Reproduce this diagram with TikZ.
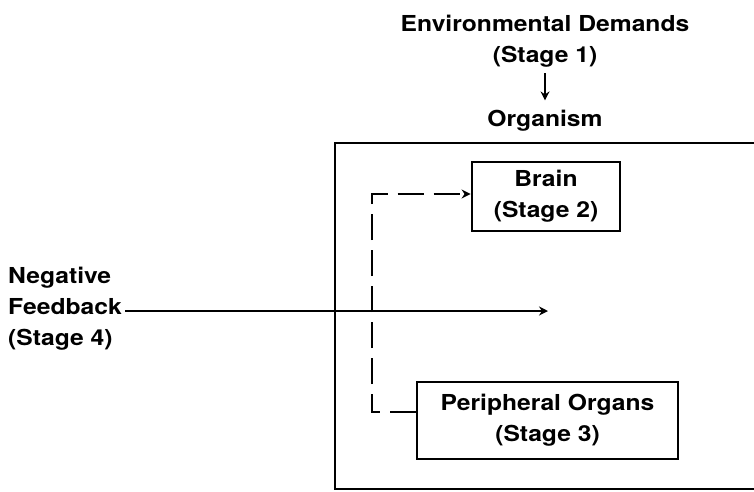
\documentclass[tikz,border=0pt]{standalone}
\usepackage{fontspec}
\setmainfont{TeX Gyre Heros}[FakeStretch=1.12]
\usetikzlibrary{arrows.meta,positioning}

\begin{document}
\begin{tikzpicture}[x=1pt,y=-1pt,
  lbl/.style={font=\bfseries\fontsize{22}{31}\selectfont,inner sep=0pt},
  stagebox/.style={lbl,draw,line width=2.8pt,align=center},
  flow/.style={line width=2.2pt,-{Stealth[length=9pt,width=9pt]}},
  fbdash/.style={line width=2.2pt,dash pattern=on 26pt off 10pt,-{Stealth[length=9pt,width=9pt]}}]
  \clip (0,0) rectangle (754,491);
  % organism frame, runs off the right edge
  \draw[line width=2.8pt] (335,143) rectangle (775,489);
  \node[lbl,align=center,anchor=base] (env) at (545,62) {Environmental Demands\\(Stage 1)};
  \node[lbl,anchor=base] (org) at (545,126) {Organism};
  \draw[flow,shorten <=6pt,shorten >=9pt] (env.south) -- (org.north);
  \node[stagebox,minimum width=148pt,minimum height=69pt] (brain) at (546,196.5) {Brain\\(Stage 2)};
  \node[stagebox,minimum width=261pt,minimum height=77pt] (periph) at (547.5,420.5) {Peripheral Organs\\(Stage 3)};
  \node[lbl,align=left,anchor=base west] (fb) at (8,345) {Negative\\Feedback\\(Stage 4)};
  \coordinate (fbend) at (548,311);
  \draw[flow] ([xshift=3pt]fb.east |- fbend) -- (fbend);
  \draw[fbdash] ([yshift=8.5pt]periph.west) -- ++(-44,0) |- ([yshift=2.5pt]brain.west);
\end{tikzpicture}
\end{document}
